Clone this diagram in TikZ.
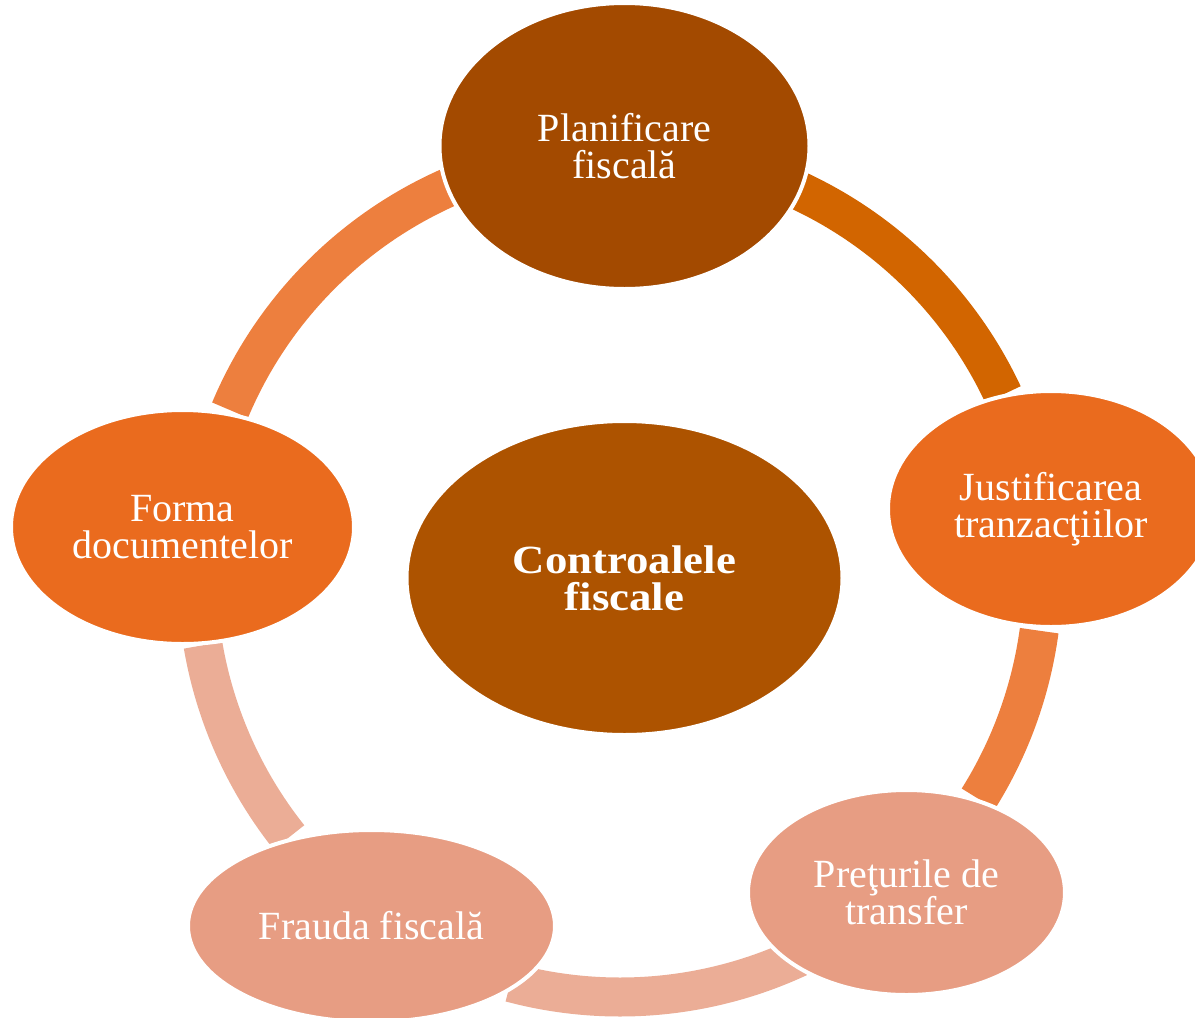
\documentclass[tikz,border=0pt]{standalone}
\usepackage{fontspec}
\setmainfont{Liberation Serif}
\newfontfamily\widebold[FakeStretch=1.12]{Liberation Serif Bold}
\usetikzlibrary{shapes.geometric}
\definecolor{cTop}{HTML}{A34A00}
\definecolor{cMid}{HTML}{AD5300}
\definecolor{cSide}{HTML}{EA6B1E}
\definecolor{cLow}{HTML}{E79D83}
\definecolor{aDark}{HTML}{D26500}
\definecolor{aMid}{HTML}{ED7F3E}
\definecolor{aLight}{HTML}{EBAD96}
\tikzset{
  bubble/.style={ellipse, draw=white, line width=4pt, inner sep=0pt,
    text=white, align=center, font=\fontsize{40}{37}\selectfont},
  ringarc/.style={line width=39pt, line cap=butt},
}
\begin{document}
\begin{tikzpicture}[x=1pt,y=-1pt]
\useasboundingbox (0,0) rectangle (1195,1018);
\clip (0,0) rectangle (1195,1018);
\coordinate (ring) at (620,574);
% ring arcs (pixel angles, y downwards)
\draw[ringarc, aDark]  ([shift={(-68:423)}]ring) arc[start angle=-68, end angle=-25.1, radius=423];
\draw[ringarc, aMid]   ([shift={(7.7:423)}]ring) arc[start angle=7.7, end angle=32.1, radius=423];
\draw[ringarc, aLight] ([shift={(65:423)}]ring) arc[start angle=65, end angle=105, radius=423];
\draw[ringarc, aLight] ([shift={(141.5:423)}]ring) arc[start angle=141.5, end angle=170.3, radius=423];
\draw[ringarc, aMid]   ([shift={(202.8:423)}]ring) arc[start angle=202.8, end angle=249, radius=423];
% bubbles
\node[bubble, fill=cTop, minimum width=370, minimum height=286] (plan) at (624.5,146) {Planificare\\fiscală};
\node[bubble, fill=cMid, minimum width=436, minimum height=314, font=\fontsize{40}{37}\widebold] (ctrl) at (624.5,578) {Controalele\\fiscale};
\node[bubble, fill=cSide, minimum width=326, minimum height=236] (just) at (1051,509) {Justificarea\\tranzacţiilor};
\node[bubble, fill=cLow, minimum width=317, minimum height=205] (pret) at (906.5,892.5) {Preţurile de\\transfer};
\node[bubble, fill=cLow, minimum width=367, minimum height=192] (frau) at (371.5,926) {Frauda fiscală};
\node[bubble, fill=cSide, minimum width=343, minimum height=234] (form) at (182.5,527) {Forma\\documentelor};
\end{tikzpicture}
\end{document}
